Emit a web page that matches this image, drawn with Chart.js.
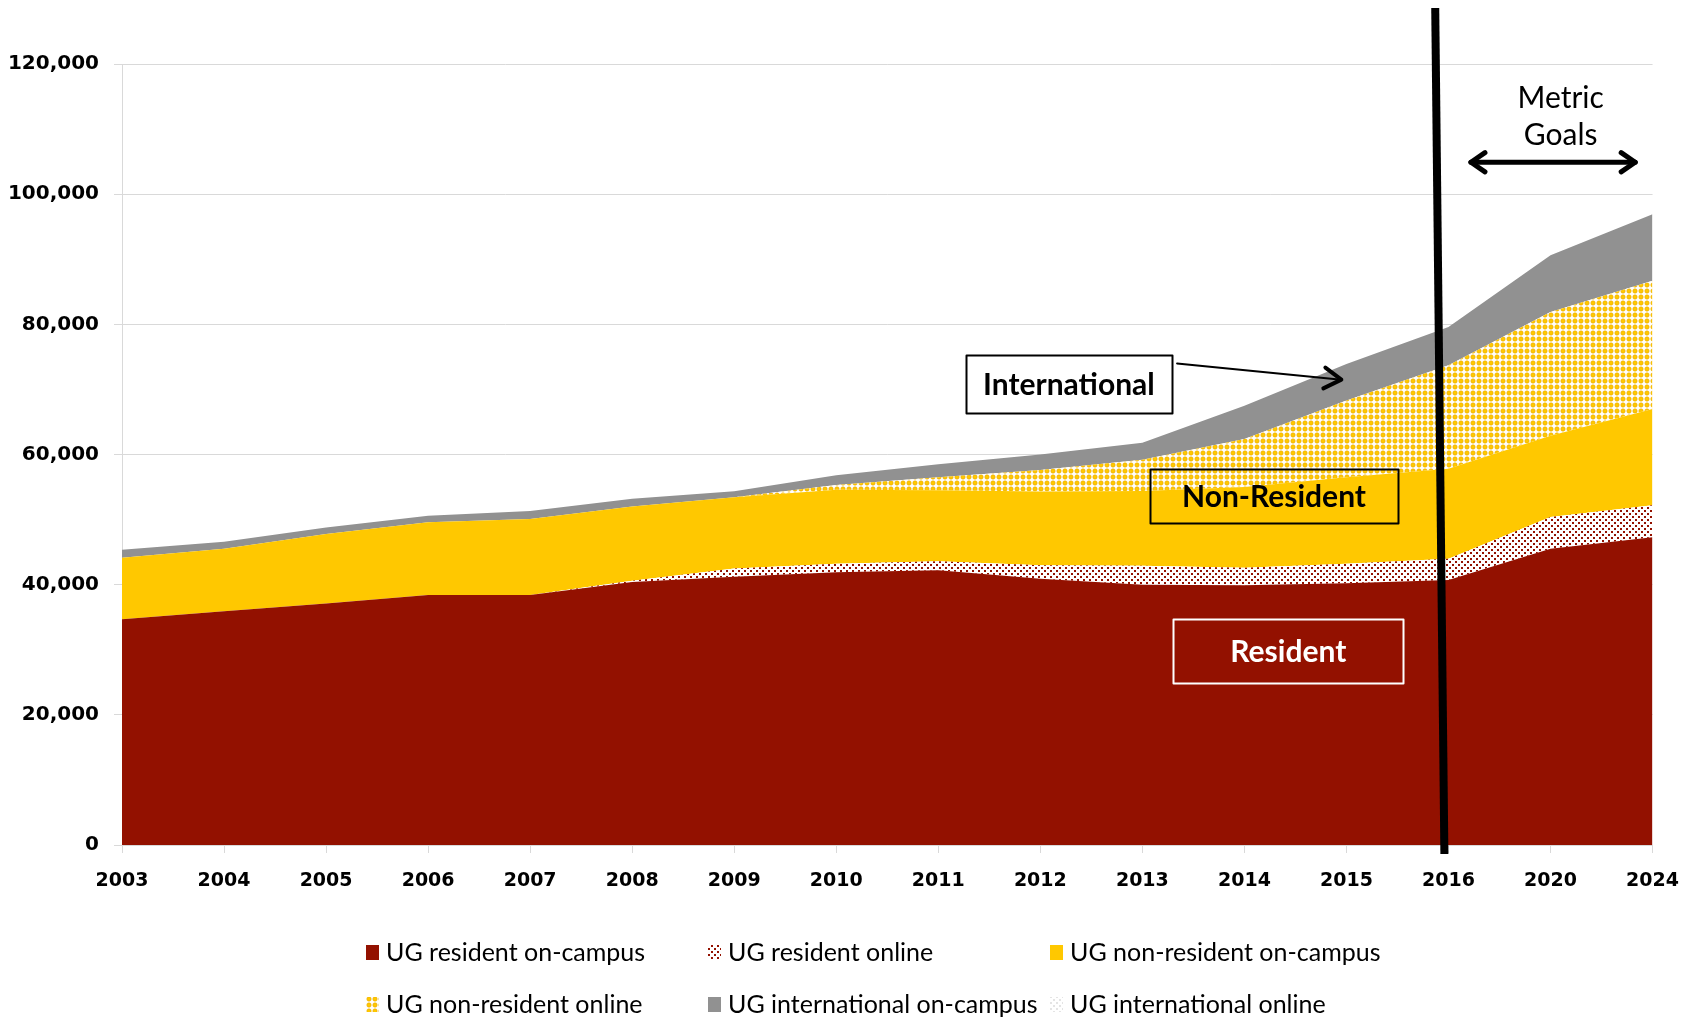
<!DOCTYPE html>
<html>
<head>
<meta charset="utf-8">
<title>Undergraduate enrollment</title>
<script src="https://cdn.jsdelivr.net/npm/chart.js@4.4.1/dist/chart.umd.min.js"></script>
<style>
  html, body { margin: 0; padding: 0; background: #ffffff; }
  #wrap { position: relative; width: 1696px; height: 1020px; }
</style>
</head>
<body>
<div id="wrap"><canvas id="enrollment-chart"></canvas></div>
<script>
const years = ['2003', '2004', '2005', '2006', '2007', '2008', '2009', '2010', '2011', '2012', '2013', '2014', '2015', '2016', '2020', '2024'];

const residentOnCampus = [34700, 35900, 37100, 38400, 38400, 40400, 41200, 41900, 42200, 40900, 40000, 39900, 40200, 40700, 45500, 47300];
const residentOnline = [0, 0, 0, 0, 0, 200, 1300, 1300, 1400, 2100, 2900, 2700, 3000, 3300, 4900, 4900];
const nonResidentOnCampus = [9450, 9600, 10700, 11200, 11700, 11400, 10950, 11400, 10900, 11300, 11500, 12400, 13300, 13800, 12500, 14800];
const nonResidentOnline = [0, 0, 0, 0, 0, 0, 0, 700, 2000, 3300, 4800, 7400, 11800, 15900, 19000, 19700];
const internationalOnCampus = [1200, 1100, 1000, 1000, 1200, 1200, 900, 1500, 2000, 2400, 2600, 5100, 5600, 5900, 8700, 10200];
const internationalOnline = [0, 0, 0, 0, 0, 0, 0, 0, 0, 0, 0, 0, 0, 0, 0, 0];

const yTicks = [0, 20000, 40000, 60000, 80000, 100000, 120000];
const dividerYear = '2016';

const RED = '#931100';
const YELLOW = '#ffc800';
const GRAY = '#919191';
const GRID = '#d9d9d9';

function makePattern(size, drawTile) {
  const tile = document.createElement('canvas');
  tile.width = size;
  tile.height = size;
  const tctx = tile.getContext('2d');
  tctx.fillStyle = '#ffffff';
  tctx.fillRect(0, 0, size, size);
  drawTile(tctx);
  return tctx.createPattern(tile, 'repeat');
}

const redDots = makePattern(6, (c) => {
  c.fillStyle = RED;
  c.fillRect(0, 0, 2, 2);
  c.fillRect(3, 3, 2, 2);
});

const yellowBubbles = makePattern(6, (c) => {
  c.fillStyle = YELLOW;
  c.strokeStyle = '#eaa900';
  c.lineWidth = 0.6;
  c.beginPath();
  c.arc(3, 3, 2.2, 0, Math.PI * 2);
  c.fill();
  c.stroke();
});

const grayDots = makePattern(6, (c) => {
  c.fillStyle = '#e4e4e4';
  c.fillRect(0, 0, 2, 2);
  c.fillRect(3, 3, 2, 2);
});

const seriesDefs = [
  { label: 'UG resident on-campus', data: residentOnCampus, color: RED },
  { label: 'UG resident online', data: residentOnline, color: redDots },
  { label: 'UG non-resident on-campus', data: nonResidentOnCampus, color: YELLOW },
  { label: 'UG non-resident online', data: nonResidentOnline, color: yellowBubbles },
  { label: 'UG international on-campus', data: internationalOnCampus, color: GRAY },
  { label: 'UG international online', data: internationalOnline, color: grayDots },
];

const datasets = seriesDefs.map((def, i) => ({
  label: def.label,
  data: def.data,
  backgroundColor: def.color,
  borderWidth: 0,
  pointRadius: 0,
  tension: 0,
  fill: i === 0 ? 'origin' : '-1',
}));

function arrowHead(ctx, fromX, fromY, toX, toY, len, spread) {
  const angle = Math.atan2(toY - fromY, toX - fromX);
  ctx.beginPath();
  ctx.moveTo(toX - len * Math.cos(angle - spread), toY - len * Math.sin(angle - spread));
  ctx.lineTo(toX, toY);
  ctx.lineTo(toX - len * Math.cos(angle + spread), toY - len * Math.sin(angle + spread));
  ctx.stroke();
}

function labelBox(ctx, cx, cy, w, h, text, color) {
  ctx.strokeStyle = color;
  ctx.lineWidth = 2;
  ctx.strokeRect(Math.round(cx - w / 2) + 0.5, Math.round(cy - h / 2) + 0.5, w, h);
  ctx.fillStyle = color;
  ctx.font = 'bold 30px Lato';
  ctx.textAlign = 'center';
  ctx.textBaseline = 'middle';
  ctx.fillText(text, cx, cy + 1);
}

// call-outs, divider line and the "Metric Goals" range
const annotations = {
  id: 'annotations',
  afterDraw(chart) {
    const { ctx } = chart;
    const x = chart.scales.x;
    const y = chart.scales.y;
    const divIdx = years.indexOf(dividerYear);
    ctx.save();
    ctx.lineCap = 'round';
    ctx.lineJoin = 'round';

    labelBox(ctx, x.getPixelForValue(9.28), y.getPixelForValue(70800), 206, 58, 'International', '#000000');
    labelBox(ctx, x.getPixelForValue(11.29), y.getPixelForValue(53600), 248, 54, 'Non-Resident', '#000000');
    labelBox(ctx, x.getPixelForValue(11.43), y.getPixelForValue(29800), 230, 64, 'Resident', '#ffffff');

    const ax0 = x.getPixelForValue(10.34), ay0 = y.getPixelForValue(74000);
    const ax1 = x.getPixelForValue(11.95), ay1 = y.getPixelForValue(71500);
    ctx.strokeStyle = '#000000';
    ctx.lineWidth = 2;
    ctx.beginPath();
    ctx.moveTo(ax0, ay0);
    ctx.lineTo(ax1, ay1);
    ctx.stroke();
    ctx.lineWidth = 4;
    arrowHead(ctx, ax0, ay0, ax1, ay1, 20, 0.55);

    ctx.lineCap = 'butt';
    ctx.lineWidth = 8;
    ctx.beginPath();
    ctx.moveTo(x.getPixelForValue(divIdx - 0.13), 8);
    ctx.lineTo(x.getPixelForValue(divIdx - 0.04), y.getPixelForValue(0) + 9);
    ctx.stroke();

    ctx.fillStyle = '#000000';
    ctx.font = '30px Lato';
    ctx.textAlign = 'center';
    ctx.textBaseline = 'middle';
    const gx = x.getPixelForValue(14.1);
    ctx.fillText('Metric', gx, y.getPixelForValue(114700));
    ctx.fillText('Goals', gx, y.getPixelForValue(109000));

    const gy = y.getPixelForValue(104900);
    const g0 = x.getPixelForValue(13.22), g1 = x.getPixelForValue(14.83);
    ctx.lineCap = 'round';
    ctx.lineWidth = 5;
    ctx.beginPath();
    ctx.moveTo(g0, gy);
    ctx.lineTo(g1, gy);
    ctx.stroke();
    arrowHead(ctx, g1, gy, g0, gy, 17, 0.6);
    arrowHead(ctx, g0, gy, g1, gy, 17, 0.6);
    ctx.restore();
  },
};

// three-column legend under the axis
const gridLegend = {
  id: 'gridLegend',
  afterDraw(chart) {
    const { ctx } = chart;
    const cols = [366, 708, 1050];
    const rows = [953, 1005];
    ctx.save();
    ctx.font = '25px Lato';
    ctx.textBaseline = 'middle';
    ctx.textAlign = 'left';
    chart.data.datasets.forEach((ds, i) => {
      const lx = cols[i % 3];
      const ly = rows[Math.floor(i / 3)];
      ctx.fillStyle = ds.backgroundColor;
      ctx.fillRect(lx, ly - 8, 13, 15);
      ctx.fillStyle = '#000000';
      ctx.fillText(ds.label, lx + 20, ly);
    });
    ctx.restore();
  },
};

const xFont = { family: 'DejaVu Sans', weight: 'bold', size: 19 };
const yFont = { family: 'DejaVu Sans', weight: 'bold', size: 20 };

new Chart(document.getElementById('enrollment-chart'), {
  type: 'line',
  data: { labels: years, datasets },
  options: {
    responsive: true,
    maintainAspectRatio: false,
    animation: false,
    devicePixelRatio: 1,
    layout: { padding: { top: 64, right: 43, bottom: 115, left: 0 } },
    plugins: {
      legend: { display: false },
      tooltip: { enabled: false },
    },
    scales: {
      x: {
        offset: false,
        grid: { drawOnChartArea: false, color: GRID, tickLength: 8 },
        border: { color: GRID },
        ticks: { color: '#000000', font: xFont, padding: 17, maxRotation: 0, autoSkip: false },
        afterFit(scale) { scale.height = 60; },
      },
      y: {
        stacked: true,
        min: yTicks[0],
        max: yTicks[yTicks.length - 1],
        afterBuildTicks(scale) { scale.ticks = yTicks.map((v) => ({ value: v })); },
        grid: { color: GRID, tickLength: 8 },
        border: { color: GRID },
        ticks: {
          color: '#000000',
          font: yFont,
          padding: 15,
          callback(value) { return Number(value).toLocaleString('en-US'); },
        },
        afterFit(scale) { scale.width = 122; },
      },
    },
  },
  plugins: [annotations, gridLegend],
});
</script>
</body>
</html>
